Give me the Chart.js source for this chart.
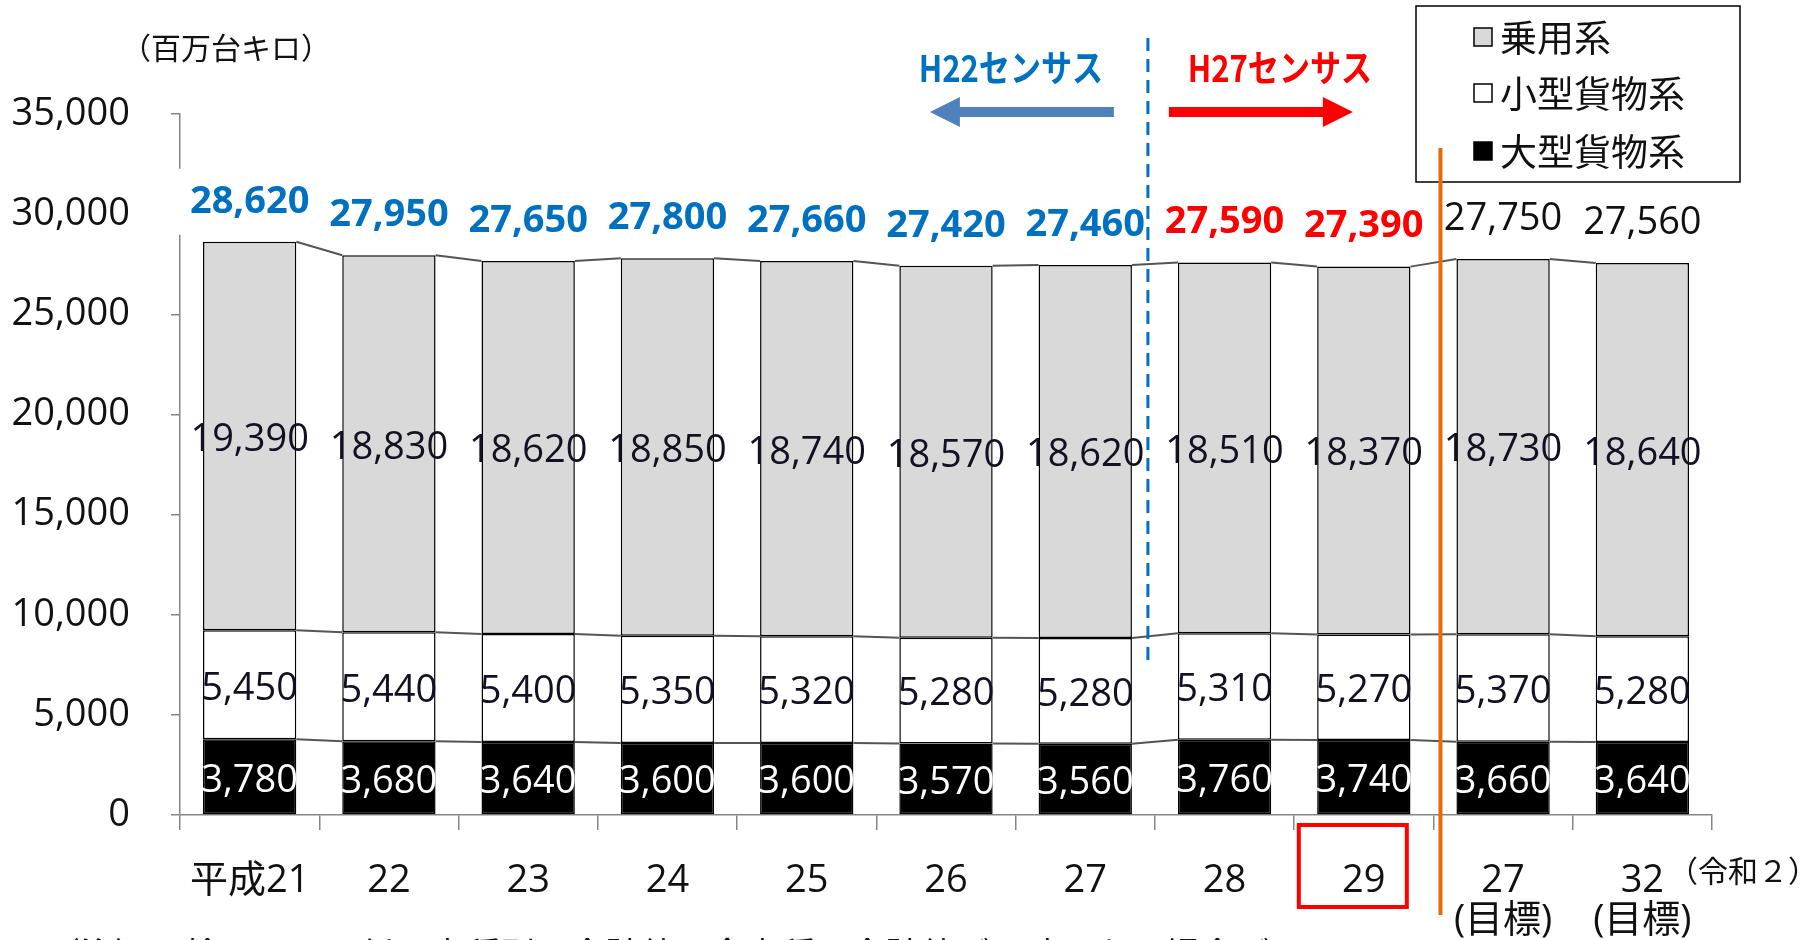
<!DOCTYPE html>
<html><head><meta charset="utf-8">
<script src="https://cdn.jsdelivr.net/npm/chart.js@4.4.1/dist/chart.umd.min.js"></script>
<style>html,body{margin:0;padding:0;background:#fff;}#wrap{width:1810px;height:940px;position:relative;}</style>
</head><body><div id="wrap"><canvas id="c"></canvas></div>
<script>
// ---- data ----
const categories = ['平成21','22','23','24','25','26','27','28','29','27','32'];
const categoryNotes = ['','','','','','','','','','(目標)','(目標)'];
const passenger    = [19390,18830,18620,18850,18740,18570,18620,18510,18370,18730,18640];
const smallFreight = [5450,5440,5400,5350,5320,5280,5280,5310,5270,5370,5280];
const largeFreight = [3780,3680,3640,3600,3600,3570,3560,3760,3740,3660,3640];
const totals       = [28620,27950,27650,27800,27660,27420,27460,27590,27390,27750,27560];
const yTicks = [0,5000,10000,15000,20000,25000,30000,35000];
const seriesNames = ['乗用系','小型貨物系','大型貨物系'];
const yUnit = '（百万台キロ）';
const eraNote = '（令和２）';
const footNote = '（注）四捨五入の関係で車種別の合計値と全車種の合計値が一致しない場合がある。';
const censusLeft = 'H22センサス', censusRight = 'H27センサス';

// ---- styles ----
const totalColors = ['#0070C0','#0070C0','#0070C0','#0070C0','#0070C0','#0070C0','#0070C0','#FF0000','#FF0000','#111111','#111111'];
const LAT = "'Open Sans','Noto Sans CJK JP',sans-serif";
const CJK = "'Noto Sans CJK JP',sans-serif";
const GRAY = '#D9D9D9';

const labels = categories.map((c,i)=> categoryNotes[i] ? [c, categoryNotes[i]] : c);
const fmt = v => v.toLocaleString('en-US');

function arrow(ctx, xTail, xTip, y, color, shaft, headLen, headH){
  const dir = Math.sign(xTip - xTail);
  const xb = xTip - dir*headLen;
  ctx.fillStyle = color;
  ctx.beginPath();
  ctx.moveTo(xTail, y - shaft/2);
  ctx.lineTo(xb, y - shaft/2);
  ctx.lineTo(xb, y - headH/2);
  ctx.lineTo(xTip, y);
  ctx.lineTo(xb, y + headH/2);
  ctx.lineTo(xb, y + shaft/2);
  ctx.lineTo(xTail, y + shaft/2);
  ctx.closePath();
  ctx.fill();
}

const annot = {
  id: 'annot',
  afterDatasetsDraw(chart){
    const ctx = chart.ctx;
    const metas = [0,1,2].map(i => chart.getDatasetMeta(i));
    ctx.save();
    const top = chart.getDatasetMeta(2).data;
    ctx.font = `bold 38px ${LAT}`;
    ctx.textAlign = 'center'; ctx.textBaseline = 'middle';
    // white label box of the first total covers the axis line
    {
      const el = top[0], cy = el.y - 40;
      const w = ctx.measureText(fmt(totals[0])).width;
      ctx.fillStyle = '#fff';
      ctx.fillRect(el.x - w/2 - 20, cy - 33, w + 40, 66);
    }
    top.forEach((el,i)=>{
      const cy = el.y - 40;
      ctx.fillStyle = totalColors[i];
      ctx.font = (i >= 9 ? '' : 'bold ') + `38px ${LAT}`;
      ctx.fillText(fmt(totals[i]), el.x, cy);
    });
    // series lines
    ctx.strokeStyle = '#555555'; ctx.lineWidth = 2;
    metas.forEach(m => {
      for (let i = 0; i < m.data.length - 1; i++){
        const a = m.data[i], b = m.data[i+1];
        ctx.beginPath();
        ctx.moveTo(a.x + a.width/2, a.y);
        ctx.lineTo(b.x - b.width/2, b.y);
        ctx.stroke();
      }
    });
    // inside labels
    ctx.font = `38px ${LAT}`;
    const vals = [largeFreight, smallFreight, passenger];
    metas.forEach((m,d) => {
      ctx.fillStyle = d === 0 ? '#ffffff' : '#111122';
      m.data.forEach((el,i) => {
        ctx.fillText(fmt(vals[d][i]), el.x, (el.y + el.base)/2 + 4);
      });
    });
    ctx.restore();
  },
  afterDraw(chart){
    const ctx = chart.ctx, xs = chart.scales.x;
    const dashX = (xs.getPixelForValue(6) + xs.getPixelForValue(7))/2 - 7;
    const orangeX = (xs.getPixelForValue(8) + xs.getPixelForValue(9))/2 + 7;
    ctx.save();
    // dashed census divider
    ctx.strokeStyle = '#0070C0'; ctx.lineWidth = 3; ctx.setLineDash([13,8]);
    ctx.beginPath(); ctx.moveTo(dashX, 38); ctx.lineTo(dashX, 667); ctx.stroke();
    ctx.setLineDash([]);
    // arrows
    arrow(ctx, dashX - 34, dashX - 218, 112, '#4F81BD', 10, 30, 30);
    arrow(ctx, dashX + 21, dashX + 205, 112, '#FF0000', 10, 30, 30);
    // census labels
    ctx.font = `bold 37px ${CJK}`;
    ctx.textAlign = 'center'; ctx.textBaseline = 'middle';
    ctx.fillStyle = '#0070C0';
    ctx.save(); ctx.translate(dashX - 137, 68); ctx.scale(0.84, 1); ctx.fillText(censusLeft, 0, 0); ctx.restore();
    ctx.fillStyle = '#FF0000';
    ctx.save(); ctx.translate(dashX + 132, 68); ctx.scale(0.84, 1); ctx.fillText(censusRight, 0, 0); ctx.restore();
    // red box on 29
    const cx = xs.getPixelForValue(8) - 11;
    ctx.strokeStyle = '#FF0000'; ctx.lineWidth = 4;
    ctx.strokeRect(cx - 54, 825, 108, 82);
    // legend
    ctx.fillStyle = '#fff'; ctx.fillRect(1416, 6, 324, 176);
    ctx.strokeStyle = '#000'; ctx.lineWidth = 1.5; ctx.strokeRect(1416, 6, 324, 176);
    const legY = [37, 93, 151];
    const legFill = [GRAY, '#ffffff', '#000000'];
    ctx.textAlign = 'left'; ctx.font = `37px ${CJK}`;
    legY.forEach((y,i) => {
      ctx.fillStyle = legFill[i]; ctx.fillRect(1474, y - 9, 18, 18);
      ctx.strokeStyle = '#000'; ctx.lineWidth = 1.5; ctx.strokeRect(1474, y - 9, 18, 18);
      ctx.fillStyle = '#111'; ctx.fillText(seriesNames[i], 1500, y + 1);
    });
    // orange divider (drawn over the legend box)
    ctx.strokeStyle = '#E36C09'; ctx.lineWidth = 4;
    ctx.beginPath(); ctx.moveTo(orangeX, 148); ctx.lineTo(orangeX, 915); ctx.stroke();
    // y unit
    ctx.font = `30px ${CJK}`; ctx.fillStyle = '#111';
    ctx.fillText(yUnit, 121, 48);
    // era note
    ctx.font = `30px ${CJK}`;
    ctx.fillText(eraNote, 1668, 871);
    // footnote (cut off by the page edge)
    ctx.font = `35px ${CJK}`; ctx.textBaseline = 'top';
    ctx.fillText(footNote, 45, 937);
    ctx.restore();
  }
};

new Chart(document.getElementById('c'), {
  type: 'bar',
  data: {
    labels,
    datasets: [
      { label: seriesNames[2], data: largeFreight, backgroundColor: '#000', borderColor: '#000', borderWidth: 1.5, borderSkipped: false },
      { label: seriesNames[1], data: smallFreight, backgroundColor: '#fff', borderColor: '#000', borderWidth: 1.5, borderSkipped: false },
      { label: seriesNames[0], data: passenger, backgroundColor: GRAY, borderColor: '#000', borderWidth: 1.5, borderSkipped: false }
    ]
  },
  options: {
    responsive: true, maintainAspectRatio: false, animation: false, devicePixelRatio: 1,
    datasets: { bar: { barPercentage: 0.67, categoryPercentage: 1.0 } },
    layout: { padding: { top: 114, right: 98, left: 0, bottom: 0 } },
    plugins: { legend: { display: false }, tooltip: { enabled: false } },
    scales: {
      x: {
        stacked: true, offset: true,
        grid: { offset: true, drawOnChartArea: false, tickLength: 15, color: '#868686', lineWidth: 1.5 },
        border: { color: '#868686', width: 1.5 },
        ticks: { font: { family: LAT, size: 38, lineHeight: 1.05 }, color: '#111', padding: 31, maxRotation: 0, autoSkip: false },
        afterFit(s){ s.height = 125; }
      },
      y: {
        stacked: true, min: yTicks[0], max: yTicks[yTicks.length-1],
        grid: { drawOnChartArea: false, tickLength: 9, color: '#868686', lineWidth: 1.5 },
        border: { color: '#868686', width: 1.5 },
        ticks: { stepSize: yTicks[1] - yTicks[0], font: { family: LAT, size: 38 }, color: '#111', padding: 41, callback: v => fmt(v) },
        afterFit(s){ s.width = 180; }
      }
    }
  },
  plugins: [annot]
});
</script></body></html>
